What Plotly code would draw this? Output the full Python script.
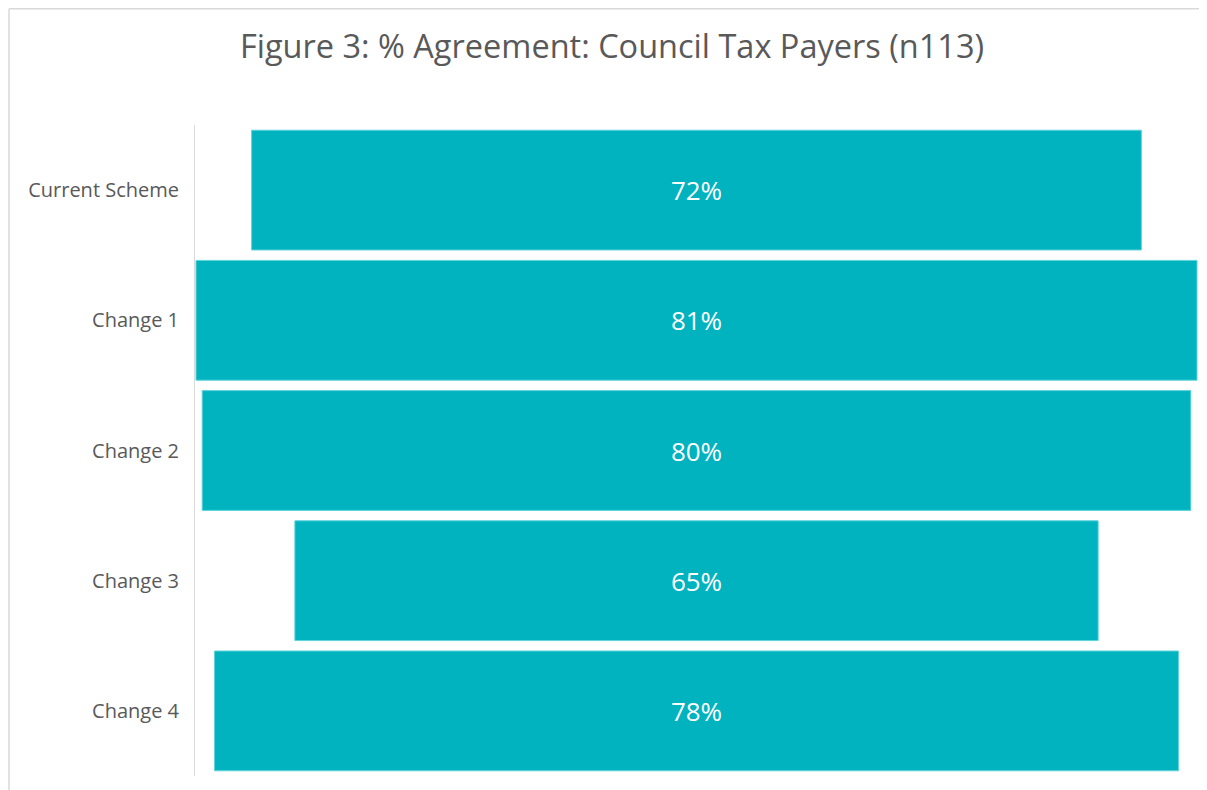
import plotly.graph_objects as go

categories = ["Current Scheme", "Change 1", "Change 2", "Change 3", "Change 4"]
agreement = [72, 81, 80, 65, 78]
title_text = "Figure 3: % Agreement: Council Tax Payers (n113)"

# the page body has an 8px margin; draw the figure so the screen matches 1207x790
OFF = 8
W, H = 1207 - OFF, 790 - OFF
L, T = 195 - OFF, 125 - OFF
R = W - (1198 - OFF)
B = H - (776 - OFF)
pw, ph = W - L - R, H - T - B

bar_color = "#00B3BF"
half = max(agreement) / 2 * pw / (pw - 2)

fig = go.Figure(go.Bar(
    y=categories,
    x=agreement,
    base=[-v / 2 for v in agreement],
    orientation="h",
    marker=dict(color=bar_color, line=dict(color="#5fd3dc", width=1)),
    text=[f"{v}%" for v in agreement],
    textposition="inside",
    insidetextanchor="middle",
    textfont=dict(color="white", size=26, family="Open Sans"),
    hoverinfo="skip",
))

def px_x(x):
    return (x - OFF - L) / pw

def px_y(y):
    return 1 - (y - OFF - T) / ph

border = dict(color="#d9d9d9", width=1.5)
fig.update_layout(
    width=W, height=H,
    margin=dict(l=L, r=R, t=T, b=B),
    paper_bgcolor="white", plot_bgcolor="white",
    bargap=0.08,
    showlegend=False,
    title=dict(text=title_text, x=(612 - OFF) / W, xref="container", xanchor="center",
               y=1 - (47 - OFF) / H, yref="container", yanchor="middle",
               font=dict(family="Open Sans", size=32.5, color="#595959")),
    xaxis=dict(range=[-half, half], visible=False, fixedrange=True),
    yaxis=dict(autorange="reversed", showline=True, linecolor="#d9d9d9", linewidth=1,
               showgrid=False, zeroline=False, ticks="", ticklabelstandoff=11,
               tickfont=dict(family="Open Sans", size=20, color="#595959")),
    shapes=[
        dict(type="line", xref="paper", yref="paper", x0=px_x(9), x1=px_x(1215),
             y0=px_y(8.8), y1=px_y(8.8), line=border),
        dict(type="line", xref="paper", yref="paper", x0=px_x(9), x1=px_x(9),
             y0=px_y(8.8), y1=px_y(795), line=border),
    ],
)

fig.write_html("out.html")
